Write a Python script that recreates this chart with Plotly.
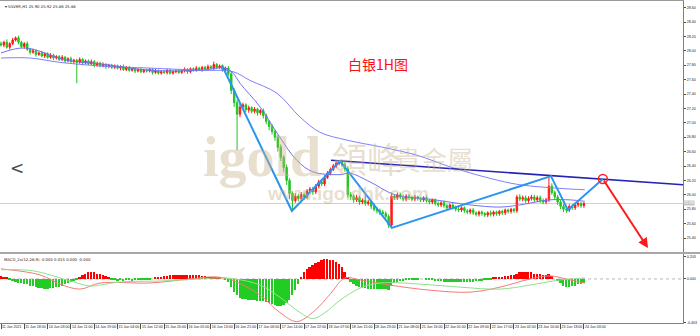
import plotly.graph_objects as go

# ---------------- data ----------------
first_open = 28.10
closes = [
    28.08, 28.12, 28.05, 28.10, 28.15, 28.18, 28.12, 28.06, 28.10, 28.02,
    27.98, 28.00, 27.95, 27.97, 27.93, 27.96, 27.91, 27.94, 27.90, 27.92,
    27.88, 27.91, 27.86, 27.89, 27.85, 27.87, 27.84, 27.88, 27.83, 27.86,
    27.82, 27.85, 27.80, 27.83, 27.79, 27.81, 27.78, 27.80, 27.77, 27.79,
    27.76, 27.78, 27.74, 27.77, 27.73, 27.75, 27.72, 27.74, 27.71, 27.73,
    27.72, 27.74, 27.70, 27.72, 27.69, 27.71, 27.70, 27.73, 27.69, 27.71, 27.72,
    27.70, 27.72, 27.74, 27.71, 27.75, 27.73, 27.76, 27.74, 27.77, 27.75,
    27.78, 27.76, 27.81, 27.77, 27.79, 27.74, 27.76, 27.68, 27.45, 27.28,
    27.12, 27.22, 27.25, 27.18, 27.21, 27.16, 27.19, 27.14, 27.17, 27.10,
    27.02, 26.95, 26.88, 26.80, 26.66, 26.52, 26.38, 26.20, 26.02, 25.92,
    25.98, 25.95, 26.00, 25.97, 26.05, 26.08, 26.04, 26.12, 26.18, 26.15,
    26.24, 26.30, 26.35, 26.40, 26.44, 26.46, 26.42, 26.36, 26.00, 25.98,
    25.93, 25.96, 25.90, 25.92, 25.88, 25.90, 25.84, 25.80, 25.78, 25.76,
    25.74, 25.70, 25.58, 25.98, 25.96, 26.00, 25.97, 25.94, 25.98, 25.96,
    25.94, 25.97, 25.95, 25.93, 25.96, 25.92, 25.90, 25.93, 25.88, 25.86,
    25.89, 25.85, 25.82, 25.86, 25.83, 25.80, 25.79, 25.82, 25.78, 25.76,
    25.79, 25.75, 25.73, 25.76, 25.74, 25.72, 25.75, 25.73, 25.76, 25.74,
    25.77, 25.75, 25.79, 25.77, 25.80, 25.78, 25.97, 25.94, 25.96, 25.92,
    25.95, 25.97, 25.93, 25.96, 25.92, 25.90, 25.93, 26.12, 26.03, 25.97,
    25.90, 25.84, 25.80, 25.79, 25.84, 25.82, 25.86, 25.88, 25.85, 25.88,
]
# upper / lower shadow lengths in cents
wick_up_c = [
    3, 2, 4, 2, 3, 2, 3, 2, 2, 3,
    2, 3, 2, 2, 3, 2, 2, 3, 2, 2,
    2, 3, 2, 2, 3, 2, 2, 3, 2, 2,
    2, 3, 2, 2, 2, 3, 2, 2, 2, 2,
    2, 2, 3, 2, 2, 2, 2, 2, 3, 2,
    2, 2, 2, 3, 2, 2, 2, 2, 2, 2, 2,
    2, 2, 3, 2, 2, 2, 3, 2, 2, 2,
    3, 2, 4, 2, 2, 2, 2, 3, 4, 3,
    4, 5, 3, 2, 3, 2, 3, 2, 2, 3,
    3, 2, 3, 2, 3, 4, 3, 4, 3, 3,
    4, 3, 4, 3, 3, 3, 3, 3, 3, 3,
    3, 3, 3, 3, 2, 2, 3, 3, 4, 4,
    3, 4, 3, 3, 8, 3, 3, 4, 3, 3,
    3, 3, 3, 5, 3, 3, 3, 3, 3, 3,
    3, 3, 2, 2, 2, 3, 2, 2, 2, 3,
    2, 3, 2, 2, 2, 2, 3, 2, 2, 2,
    2, 3, 2, 2, 2, 2, 2, 3, 2, 2,
    2, 2, 2, 2, 2, 2, 3, 4, 3, 3,
    3, 3, 3, 3, 3, 3, 3, 12, 4, 3,
    3, 3, 3, 3, 3, 3, 3, 2, 2, 2,
]
wick_dn_c = [
    2, 3, 2, 3, 2, 2, 3, 2, 3, 2,
    3, 2, 3, 2, 2, 3, 2, 2, 3, 2,
    2, 2, 3, 2, 2, 3, 29, 2, 3, 2,
    2, 2, 3, 2, 2, 2, 3, 2, 2, 2,
    2, 3, 2, 2, 2, 2, 3, 2, 2, 2,
    2, 2, 3, 2, 2, 2, 2, 3, 2, 2, 2,
    2, 2, 2, 3, 2, 2, 2, 2, 3, 2,
    2, 2, 3, 2, 2, 3, 2, 3, 5, 6,
    50, 4, 3, 3, 4, 3, 3, 4, 3, 4,
    4, 5, 4, 5, 6, 5, 6, 6, 8, 14,
    3, 4, 3, 4, 3, 3, 4, 3, 3, 3,
    3, 2, 3, 2, 3, 3, 3, 4, 4, 5,
    4, 3, 4, 3, 3, 3, 4, 3, 4, 4,
    4, 4, 4, 3, 3, 3, 3, 3, 3, 3,
    3, 3, 3, 3, 3, 3, 3, 3, 3, 3,
    3, 3, 3, 3, 3, 3, 3, 3, 3, 3,
    3, 3, 3, 3, 3, 3, 3, 3, 3, 3,
    3, 3, 3, 3, 3, 3, 3, 3, 3, 3,
    3, 3, 3, 3, 3, 3, 3, 3, 3, 4,
    4, 4, 4, 4, 3, 3, 3, 3, 3, 3,
]
macd_hist = [
    0.03, 0.02, 0.01, -0.01, -0.02, -0.03, -0.04, -0.04, -0.05, -0.05,
    -0.06, -0.06, -0.07, -0.08, -0.08, -0.09, -0.09, -0.08, -0.08, -0.07,
    -0.07, -0.06, -0.05, -0.04, -0.03, -0.02, -0.01, 0.02, 0.04, 0.05,
    0.06, 0.06, 0.06, 0.05, 0.05, 0.04, 0.03, 0.01, -0.01, -0.01,
    -0.02, -0.01, -0.02, -0.01, -0.01, -0.02, -0.01, -0.01, -0.01, -0.01,
    -0.01, -0.01, 0.00, 0.01, 0.01, 0.02, 0.03, 0.03, 0.04, 0.04, 0.04,
    0.04, 0.04, 0.04, 0.04, 0.04, 0.04, 0.04, 0.04, 0.03, 0.03,
    0.01, 0.01, 0.01, 0.01, 0.01, 0.00, -0.01, -0.03, -0.07, -0.12,
    -0.15, -0.17, -0.18, -0.18, -0.19, -0.19, -0.19, -0.20, -0.20, -0.20,
    -0.21, -0.22, -0.23, -0.24, -0.25, -0.25, -0.24, -0.22, -0.19, -0.15,
    -0.10, -0.05, 0.02, 0.06, 0.09, 0.11, 0.13, 0.15, 0.16, 0.17,
    0.18, 0.18, 0.17, 0.17, 0.16, 0.14, 0.11, 0.06, 0.02, -0.03,
    -0.05, -0.06, -0.07, -0.08, -0.08, -0.09, -0.09, -0.09, -0.09, -0.09,
    -0.09, -0.09, -0.10, -0.06, -0.04, -0.03, -0.02, -0.02, -0.01, -0.01,
    -0.01, -0.01, -0.01, 0.00, 0.00, -0.01, -0.01, -0.01, -0.02, -0.02,
    -0.02, -0.03, -0.03, -0.03, -0.03, -0.03, -0.03, -0.03, -0.03, -0.03,
    -0.03, -0.03, -0.02, -0.02, -0.02, -0.01, -0.01, -0.01, 0.01, 0.01,
    0.02, 0.02, 0.03, 0.03, 0.04, 0.04, 0.05, 0.06, 0.06, 0.06,
    0.06, 0.06, 0.05, 0.05, 0.05, 0.04, 0.04, 0.05, 0.03, 0.00,
    -0.02, -0.04, -0.06, -0.07, -0.07, -0.06, -0.06, -0.05, -0.05, -0.04,
]

ma_fast_idx = [0, 8.2, 22.6, 34, 51.1, 68.3, 76.8, 79.6, 82, 88.9, 94.7, 101.5, 107,
               116.3, 119.7, 126.6, 135.2, 147.2, 160.9, 171.2, 178, 188.3, 195.2, 200.3]
ma_fast_val = [27.97, 28.04, 27.87, 27.82, 27.73, 27.73, 27.76, 27.69, 27.55, 27.22, 26.86,
               26.48, 26.32, 26.28, 26.30, 26.18, 26.00, 25.94, 25.86, 25.83, 25.86, 25.93,
               25.93, 25.91]
ma_slow_idx = [0, 9.9, 20.2, 34, 51.1, 68.3, 79.6, 85.4, 94.7, 102.6, 109.4, 118.7, 131,
               142.7, 154, 167.7, 178, 191.8, 200.3]
ma_slow_val = [27.90, 27.90, 27.84, 27.79, 27.76, 27.73, 27.71, 27.59, 27.41, 27.08, 26.87,
               26.76, 26.66, 26.55, 26.39, 26.23, 26.14, 26.09, 26.07]

macd_main_idx = [0, 13.4, 20.2, 27.1, 34, 51.1, 64.8, 73.4, 79.2, 88.9, 95.7, 101.5, 107.7,
                 112.9, 118, 123.2, 133.4, 147.2, 160.9, 171.2, 181.5, 188.3, 195.2, 200.3]
macd_main_val = [0.093, 0.037, -0.047, -0.093, -0.037, -0.037, 0.0, 0.019, -0.009, -0.149,
                 -0.308, -0.391, -0.289, -0.14, 0.009, -0.009, -0.056, -0.103, -0.121,
                 -0.075, 0.0, 0.028, -0.009, -0.037]
macd_signal_idx = [0, 11, 22.6, 30.5, 34, 40.8, 54.5, 68.3, 75.1, 80.3, 88.9, 95.7, 102.6,
                   107, 111.2, 116.3, 123.2, 130, 143.7, 157.5, 171.2, 181.5, 191.8, 200.3]
macd_signal_val = [0.084, 0.075, -0.009, -0.065, -0.056, -0.028, -0.019, 0.0, 0.009, 0.0,
                   -0.056, -0.168, -0.308, -0.363, -0.308, -0.196, -0.084, -0.037, -0.047,
                   -0.075, -0.093, -0.056, -0.009, 0.009]

zigzag_idx = [75.8, 99.8, 116.3, 134.1, 188.7, 194.5, 206.5]
zigzag_val = [27.80, 25.775, 26.47, 25.54, 26.26, 25.79, 26.22]
trend_idx = [113.2, 234.0]
trend_val = [26.48, 26.14]
arrow_from_idx, arrow_from_val = 206.5, 26.22
arrow_to_idx, arrow_to_val = 222.0, 25.26
last_price = 25.88

price_ticks = [25.40, 25.60, 25.80, 26.00, 26.20, 26.40, 26.60, 26.80, 27.00,
               27.20, 27.40, 27.60, 27.80, 28.00, 28.20, 28.40, 28.60]
macd_ticks = [0.203, 0.0, -0.403]
macd_tick_text = ["0.203", "0.000", "-0.403"]
x_tick_idx = list(range(0, 201, 8))
x_tick_text = ["11 Jun 2021", "11 Jun 18:00", "14 Jun 03:00", "14 Jun 11:00", "14 Jun 19:00",
               "15 Jun 04:00", "15 Jun 12:00", "15 Jun 20:00", "16 Jun 05:00", "16 Jun 13:00",
               "16 Jun 21:00", "17 Jun 06:00", "17 Jun 14:00", "17 Jun 22:00", "18 Jun 07:00",
               "18 Jun 15:00", "18 Jun 23:00", "21 Jun 08:00", "21 Jun 16:00", "22 Jun 01:00",
               "22 Jun 09:00", "22 Jun 17:00", "23 Jun 02:00", "23 Jun 10:00", "23 Jun 18:00",
               "24 Jun 03:00"]

# ---------------- derived OHLC ----------------
idx = list(range(len(closes)))
opens = [first_open] + closes[:-1]
highs = [max(o, c) + u / 100 for o, c, u in zip(opens, closes, wick_up_c)]
lows = [min(o, c) - d / 100 for o, c, d in zip(opens, closes, wick_dn_c)]

UP = "#ff1a1a"
DN = "#21c421"

fig = go.Figure()
fig.add_trace(go.Candlestick(
    x=idx, open=opens, high=highs, low=lows, close=closes,
    increasing=dict(line=dict(color=UP, width=1), fillcolor=UP),
    decreasing=dict(line=dict(color=DN, width=1), fillcolor=DN),
    whiskerwidth=0, xaxis="x", yaxis="y", hoverinfo="skip"))
fig.add_trace(go.Scatter(x=ma_slow_idx, y=ma_slow_val, mode="lines",
                         line=dict(color="#8080ff", width=1, shape="spline"), xaxis="x", yaxis="y"))
fig.add_trace(go.Scatter(x=ma_fast_idx, y=ma_fast_val, mode="lines",
                         line=dict(color="#7070f4", width=1, shape="spline"), xaxis="x", yaxis="y"))
fig.add_trace(go.Scatter(x=trend_idx, y=trend_val, mode="lines",
                         line=dict(color="#2424b4", width=1.6), xaxis="x", yaxis="y"))
fig.add_trace(go.Scatter(x=zigzag_idx, y=zigzag_val, mode="lines",
                         line=dict(color="#2a95f0", width=2), xaxis="x", yaxis="y"))
fig.add_trace(go.Scatter(x=[zigzag_idx[-1]], y=[zigzag_val[-1]], mode="markers",
                         marker=dict(symbol="circle-open", size=9, color="#ff2020",
                                     line=dict(width=1.5, color="#ff2020")),
                         xaxis="x", yaxis="y"))

bar_colors = ["#ff0000" if v >= 0 else "#22cc22" for v in macd_hist]
fig.add_trace(go.Bar(x=idx, y=macd_hist, marker=dict(color=bar_colors, line=dict(width=0)),
                     width=0.65, xaxis="x2", yaxis="y2"))
fig.add_trace(go.Scatter(x=macd_main_idx, y=macd_main_val, mode="lines",
                         line=dict(color="#f47a7a", width=1, shape="spline"), xaxis="x2", yaxis="y2"))
fig.add_trace(go.Scatter(x=macd_signal_idx, y=macd_signal_val, mode="lines",
                         line=dict(color="#8fe08f", width=1, shape="spline"), xaxis="x2", yaxis="y2"))

XR = [-0.343, 234.0]
tickfont = dict(family="Liberation Sans", size=3.6, color="#202020")
wm = "rgba(200,178,140,0.42)"

fig.update_layout(
    width=700, height=336,
    margin=dict(l=0, r=17, t=1, b=13),
    paper_bgcolor="white", plot_bgcolor="white",
    showlegend=False, bargap=0,
    xaxis=dict(domain=[0, 1], range=XR, anchor="y", showticklabels=False, ticks="",
               showgrid=False, zeroline=False, showline=True, mirror=True,
               linecolor="#9a9a9a", linewidth=1, rangeslider=dict(visible=False)),
    xaxis2=dict(domain=[0, 1], range=XR, anchor="y2", matches="x",
                tickmode="array", tickvals=x_tick_idx, ticktext=x_tick_text, tickangle=0,
                ticks="outside", ticklen=5, tickcolor="#505050", tickwidth=1,
                ticklabelposition="outside right", tickfont=tickfont,
                showgrid=False, zeroline=False, showline=True, mirror=True,
                linecolor="#808080", linewidth=1),
    yaxis=dict(domain=[0.2205, 1], range=[25.206, 28.692], side="right", anchor="x",
               tickmode="array", tickvals=price_ticks,
               ticktext=[f"{v:.2f}" for v in price_ticks],
               ticks="outside", ticklen=2, tickcolor="#505050", tickfont=tickfont,
               showgrid=False, zeroline=False, showline=True, mirror=True,
               linecolor="#808080", linewidth=1),
    yaxis2=dict(domain=[0, 0.2143], range=[-0.404, 0.229], side="right", anchor="x2",
                tickmode="array", tickvals=macd_ticks, ticktext=macd_tick_text,
                ticks="outside", ticklen=2, tickcolor="#505050", tickfont=tickfont,
                showgrid=False, zeroline=False, showline=True, mirror=True,
                linecolor="#808080", linewidth=1),
)

fig.add_shape(type="line", xref="paper", yref="y", x0=0, x1=1, y0=last_price, y1=last_price,
              line=dict(color="#cfcfcf", width=1), layer="below")
fig.add_shape(type="line", xref="paper", yref="y2", x0=0, x1=1, y0=0, y1=0,
              line=dict(color="#b8b8b8", width=1, dash="dot"), layer="below")
fig.add_shape(type="rect", xref="paper", yref="paper", x0=0, x1=1.025, y0=0.2143, y1=0.2205,
              fillcolor="#a8a8a8", line=dict(width=0))

ann = [
    # watermark
    dict(text="<b>igold</b>", x=0.383, y=0.515, font=dict(family="Liberation Serif", size=56, color=wm)),
    dict(text="領峰", x=0.538, y=0.515, font=dict(family="Noto Sans CJK TC", size=35, color=wm)),
    dict(text="貴金屬", x=0.695, y=0.510, font=dict(family="Noto Sans CJK TC", size=26, color=wm)),
    dict(text="<b>www.igoldhk.com</b>", x=0.5095, y=0.402,
         font=dict(family="Liberation Sans", size=19, color=wm)),
    # title
    dict(text="白银1H图", x=0.553, y=0.842, font=dict(family="Noto Sans CJK SC", size=14, color="#ff1010")),
    # nav chevron
    dict(text="&lt;", x=0.012, y=0.481, font=dict(family="DejaVu Sans", size=17, color="#4a4a4a")),
    # headers
    dict(text="▾ SILVER,H1 25.90 25.92 25.86 25.88", x=0.004, y=0.996, xanchor="left", yanchor="top",
         font=dict(family="DejaVu Sans", size=3.8, color="#202020")),
    dict(text="MACD_2x(12,26,9) -0.005 0.015 0.000 -0.040", x=0.003, y=0.211, xanchor="left",
         yanchor="top", font=dict(family="DejaVu Sans", size=3.8, color="#202020")),
]
for a in ann:
    a.setdefault("xref", "paper")
    a.setdefault("yref", "paper")
    a.setdefault("showarrow", False)
    fig.add_annotation(**a)

# current price tag on the right axis
fig.add_annotation(text=f"{last_price:.2f}", xref="paper", yref="y", x=1.0, y=last_price,
                   xanchor="left", showarrow=False, bgcolor="#c4c4c4", borderpad=0,
                   font=dict(family="Liberation Sans", size=3.8, color="#ffffff"))
# projected red arrow
fig.add_annotation(x=arrow_to_idx, y=arrow_to_val, ax=arrow_from_idx, ay=arrow_from_val,
                   xref="x", yref="y", axref="x", ayref="y", text="", showarrow=True,
                   arrowhead=2, arrowsize=1, arrowwidth=2, arrowcolor="#ff1a1a")

fig.write_html("out.html", config={"displayModeBar": False})
